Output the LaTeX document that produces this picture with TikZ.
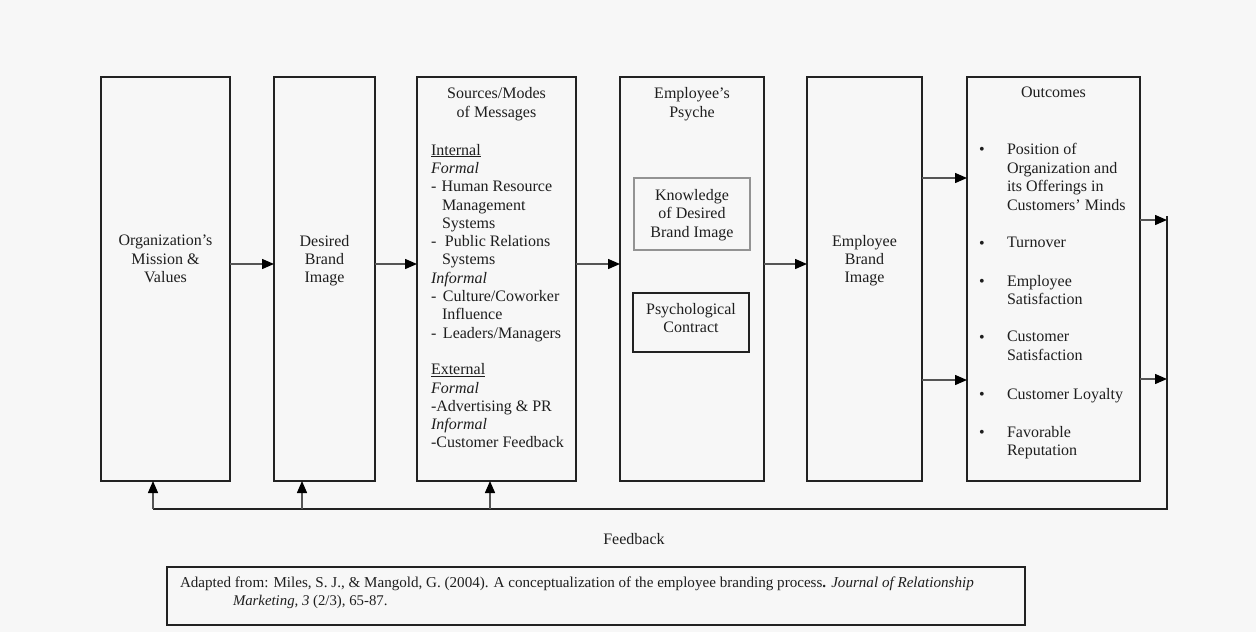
\documentclass[tikz,border=0pt]{standalone}
\usepackage{fontspec}
\setmainfont{Liberation Serif}
\usetikzlibrary{arrows.meta}
\definecolor{bg}{HTML}{F7F7F7}
\definecolor{ln}{HTML}{222222}
\definecolor{sh}{HTML}{555555}
\definecolor{tx}{HTML}{1E1E1E}
\begin{document}
\begin{tikzpicture}[x=1pt,y=-1pt,
  every node/.style={inner sep=0pt, outer sep=0pt, text=tx},
  font=\fontsize{16}{18.4}\selectfont,
  box/.style={draw=ln, line width=1.3pt, fill=bg},
  graybox/.style={draw=gray!85, line width=1.8pt, fill=bg},
  arr/.style={draw=sh, line width=1.4pt, -{Triangle[length=12pt,width=10pt,color=black]}},
  fbline/.style={draw=ln, line width=1.4pt},
  ctext/.style={align=center, anchor=north},
  ltext/.style={align=left, anchor=north west}]
\useasboundingbox[fill=bg] (0,0) rectangle (1256,632);

% main boxes
\node[box, minimum width=129pt, minimum height=404pt] (b1) at (165.5,279) {};
\node[box, minimum width=101pt, minimum height=404pt] (b2) at (324.5,279) {};
\node[box, minimum width=159pt, minimum height=404pt] (b3) at (496.5,279) {};
\node[box, minimum width=144pt, minimum height=404pt] (b4) at (692,279) {};
\node[box, minimum width=115pt, minimum height=404pt] (b5) at (864.5,279) {};
\node[box, minimum width=173pt, minimum height=404pt] (b6) at (1053.5,279) {};

% box texts
\node[ctext] (t1) at (165.5,235) {Organization's\\Mission \&\\Values};
\node[ctext] (t2) at (324.5,235) {Desired\\Brand\\Image};
\node[ctext, font=\fontsize{16}{19}\selectfont] (t3) at (496.5,87) {Sources/Modes\\of Messages};
\node[ltext, font=\fontsize{16}{18.3}\selectfont] (t3b) at (431,144) {%
\underline{Internal}\\
\textit{Formal}\\
\makebox[10.5pt][l]{-}Human Resource\\
\hspace*{11pt}Management\\
\hspace*{11pt}Systems\\
\makebox[14pt][l]{-}Public Relations\\
\hspace*{11pt}Systems\\
\textit{Informal}\\
\makebox[12pt][l]{-}Culture/Coworker\\
\hspace*{11pt}Influence\\
\makebox[12pt][l]{-}Leaders/Managers\\[18.3pt]
\underline{External}\\
\textit{Formal}\\
-Advertising \& PR\\
\textit{Informal}\\
-Customer Feedback};
\node[ctext, font=\fontsize{16}{19}\selectfont] (t4) at (692,87) {Employee's\\Psyche};
\node[graybox, minimum width=116pt, minimum height=72pt] (k) at (692,214) {};
\node[ctext, font=\fontsize{16}{18.5}\selectfont] (kt) at (692,189) {Knowledge\\of Desired\\Brand Image};
\node[box, minimum width=116pt, minimum height=59pt] (p) at (691,322.5) {};
\node[ctext, font=\fontsize{16}{18.5}\selectfont] (pt) at (691,303) {Psychological\\Contract};
\node[ctext] (t5) at (864.5,235) {Employee\\Brand\\Image};
\node[ctext] (t6) at (1053.5,87) {Outcomes};

% outcomes list
\begin{scope}[font=\fontsize{16}{18.8}\selectfont]
\node (d1) at (982,151) {\textbullet};
\node[ltext] (o1) at (1007,143) {Position of\\Organization and\\its Offerings in\\Customers' Minds};
\node (d2) at (982,245) {\textbullet};
\node[ltext] (o2) at (1007,237) {Turnover};
\node (d3) at (982,283) {\textbullet};
\node[ltext] (o3) at (1007,275) {Employee\\Satisfaction};
\node (d4) at (982,339) {\textbullet};
\node[ltext] (o4) at (1007,331) {Customer\\Satisfaction};
\node (d5) at (982,396) {\textbullet};
\node[ltext] (o5) at (1007,388) {Customer Loyalty};
\node (d6) at (982,434) {\textbullet};
\node[ltext] (o6) at (1007,426) {Favorable\\Reputation};
\end{scope}

% forward connectors
\coordinate (m) at (0,264);
\coordinate (a1) at (0,178);
\coordinate (a2) at (0,380);
\draw[arr] (b1.east |- m) -- (b2.west |- m);
\draw[arr] (b2.east |- m) -- (b3.west |- m);
\draw[arr] (b3.east |- m) -- (b4.west |- m);
\draw[arr] (b4.east |- m) -- (b5.west |- m);
\draw[arr] (b5.east |- a1) -- (b6.west |- a1);
\draw[arr] (b5.east |- a2) -- (b6.west |- a2);

% feedback loop
\coordinate (r1) at (1167,220);
\coordinate (r2) at (1167,379);
\coordinate (rt) at (1167,216);
\coordinate (fc) at (1167,509);
\coordinate (u1) at (153,509);
\coordinate (u2) at (302,509);
\coordinate (u3) at (490,509);
\draw[arr] (b6.east |- r1) -- (r1);
\draw[arr] (b6.east |- r2) -- (r2);
\draw[fbline] (rt) -- (fc) -- (u1);
\draw[arr] (u1) -- (u1 |- b1.south);
\draw[arr] (u2) -- (u2 |- b2.south);
\draw[arr] (u3) -- (u3 |- b3.south);
\node (fb) at (634,539) {Feedback};

% citation
\node[box, minimum width=858pt, minimum height=58pt] (cite) at (596,596) {};
\node[anchor=west, font=\fontsize{15.1}{18}\selectfont] (c1) at (180,584) {Adapted from: Miles, S. J., \& Mangold, G. (2004). A conceptualization of the employee branding process\textbf{.} \textit{Journal of Relationship}};
\node[anchor=west, font=\fontsize{14.8}{18}\selectfont] (c2) at (233,602) {\textit{Marketing, 3} (2/3), 65-87.};
\end{tikzpicture}
\end{document}
